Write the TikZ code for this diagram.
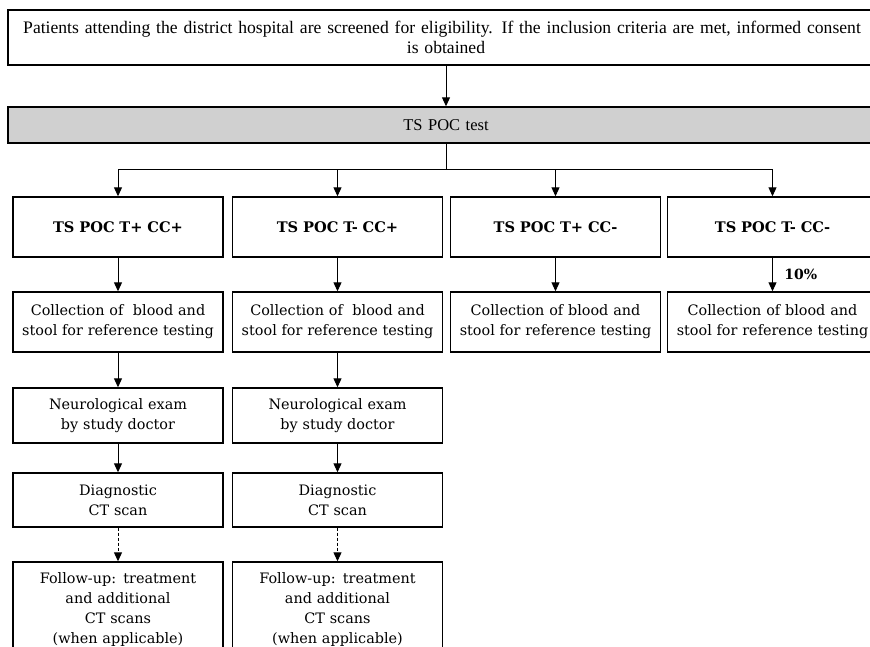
\documentclass[tikz,border=0pt]{standalone}
\usepackage{fontspec}
\setmainfont{DejaVu Serif}
\newfontfamily\topfont{Liberation Serif}
\usetikzlibrary{arrows.meta}
\begin{document}
\begin{tikzpicture}[x=1pt,y=-1pt,
  box/.style={draw=black,line width=1.4pt,fill=white,align=center,inner sep=0pt,text width=#1},
  box/.default=200pt,
  colbox/.style={box,minimum width=210pt,text width=205pt,font=\fontsize{14.4}{20}\selectfont},
  headbox/.style={colbox,font=\bfseries\fontsize{14.6}{20}\selectfont},
  arr/.style={line width=1pt,-{Triangle[length=9pt,width=8pt]}},
  darr/.style={line width=1pt,dash pattern=on 3pt off 2pt,-{Triangle[length=9pt,width=8pt]}}]
\useasboundingbox (0,0) rectangle (870,647);
\clip (0,0) rectangle (870,647);
% top
\node[box=860pt,minimum width=876pt,minimum height=55pt,font=\topfont\fontsize{17.6}{20}\selectfont] (top) at (446,37.5)
  {\hspace*{-8pt}Patients attending the district hospital are screened for eligibility. If the inclusion criteria are met, informed consent\hspace*{-8pt}\\is obtained};
\node[box=860pt,minimum width=876pt,minimum height=36pt,fill={rgb,255:red,208;green,208;blue,208},font=\topfont\fontsize{16.5}{20}\selectfont] (test) at (446,125) {TS POC test};
\coordinate (split) at (446,170);
% row 1
\node[headbox,minimum height=60pt] (h1) at (118,227) {TS POC T+ CC+};
\node[headbox,minimum height=60pt] (h2) at (337.5,227) {TS POC T- CC+};
\node[headbox,minimum height=60pt] (h3) at (555.5,227) {TS POC T+ CC-};
\node[headbox,minimum height=60pt] (h4) at (772.5,227) {TS POC T- CC-};
% row 2
\node[colbox,minimum height=60pt] (c1) at (118,322) {Collection of \ blood and\\stool for reference testing};
\node[colbox,minimum height=60pt] (c2) at (337.5,322) {Collection of \ blood and\\stool for reference testing};
\node[colbox,minimum height=60pt] (c3) at (555.5,322) {Collection of blood and\\stool for reference testing};
\node[colbox,minimum height=60pt] (c4) at (772.5,322) {Collection of blood and\\stool for reference testing};
% row 3
\node[colbox,minimum height=55pt] (n1) at (118,415.5) {Neurological exam\\by study doctor};
\node[colbox,minimum height=55pt] (n2) at (337.5,415.5) {Neurological exam\\by study doctor};
% row 4
\node[colbox,minimum height=54pt] (d1) at (118,500) {Diagnostic\\CT scan};
\node[colbox,minimum height=54pt] (d2) at (337.5,500) {Diagnostic\\CT scan};
% row 5
\node[colbox,minimum height=96pt] (f1) at (118,610) {Follow-up: treatment\\and additional\\CT scans\\(when applicable)};
\node[colbox,minimum height=96pt] (f2) at (337.5,610) {Follow-up: treatment\\and additional\\CT scans\\(when applicable)};
% connectors
\draw[arr] (top) -- (test);
\draw[line width=1pt] (test) -- (split);
\draw[arr] (split) -| (h1);
\draw[arr] (split) -| (h2);
\draw[arr] (split) -| (h3);
\draw[arr] (split) -| (h4);
\draw[arr] (h1) -- (c1);
\draw[arr] (h2) -- (c2);
\draw[arr] (h3) -- (c3);
\draw[arr] (h4) -- node[right=8pt,font=\bfseries\fontsize{14}{16}\selectfont] (pct) {10\%} (c4);
\draw[arr] (c1) -- (n1);
\draw[arr] (c2) -- (n2);
\draw[arr] (n1) -- (d1);
\draw[arr] (n2) -- (d2);
\draw[darr] (d1) -- (f1);
\draw[darr] (d2) -- (f2);
\end{tikzpicture}
\end{document}
